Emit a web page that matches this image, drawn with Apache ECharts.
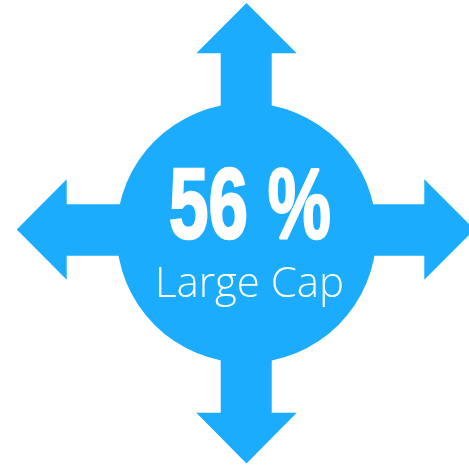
<!DOCTYPE html>
<html><head><meta charset="utf-8">
<script src="https://cdn.jsdelivr.net/npm/echarts@6/dist/echarts.min.js"></script>
<style>html,body{margin:0;padding:0;background:#fff}#c{width:469px;height:467px}</style>
</head><body><div id="c"></div>
<script>
const categories = ['Large Cap'];
const values = [56];
const valueSuffix = ' %';

const color = '#1BACFE';
const cx = 246.5, cy = 233, r = 130;
const hy = 229.5;

const chart = echarts.init(document.getElementById('c'), null, {renderer: 'canvas'});
const arrows = [
  [[246.5,3],[296.7,53.3],[271.7,53.3],[271.7,cy],[220.7,cy],[220.7,53.3],[196.3,53.3]],
  [[246.5,463.5],[296.7,412.7],[271.7,412.7],[271.7,cy],[220.7,cy],[220.7,412.7],[196.3,412.7]],
  [[16.7,hy],[66.7,179.3],[66.7,204.3],[cx,204.3],[cx,255.7],[66.7,255.7],[66.7,279.7]],
  [[474.5,hy],[424.3,179.3],[424.3,204.3],[cx,204.3],[cx,255.7],[424.3,255.7],[424.3,279.7]]
];
chart.setOption({
  animation: false,
  series: [{
    type: 'pie',
    center: [cx, cy],
    radius: [0, r],
    silent: true,
    z: 3,
    label: {show: false},
    labelLine: {show: false},
    itemStyle: {color: color},
    data: categories.map((c, i) => ({name: c, value: values[i]}))
  }],
  graphic: [
    ...arrows.map(p => ({type: 'polygon', z: 1, shape: {points: p}, style: {fill: color}})),
    {type: 'text', z: 100, x: 250, y: 210, scaleX: 0.71, style: {
      text: values[0] + valueSuffix, fill: '#fff', stroke: '#fff', lineWidth: 2.5,
      align: 'center', verticalAlign: 'middle',
      font: 'bold 100px "Liberation Sans", Arial, sans-serif'}},
    {type: 'text', z: 100, x: 249.5, y: 285, style: {
      text: categories[0], fill: '#fff', align: 'center', verticalAlign: 'middle',
      font: '300 42px "Open Sans"'}}
  ]
});
</script></body></html>
